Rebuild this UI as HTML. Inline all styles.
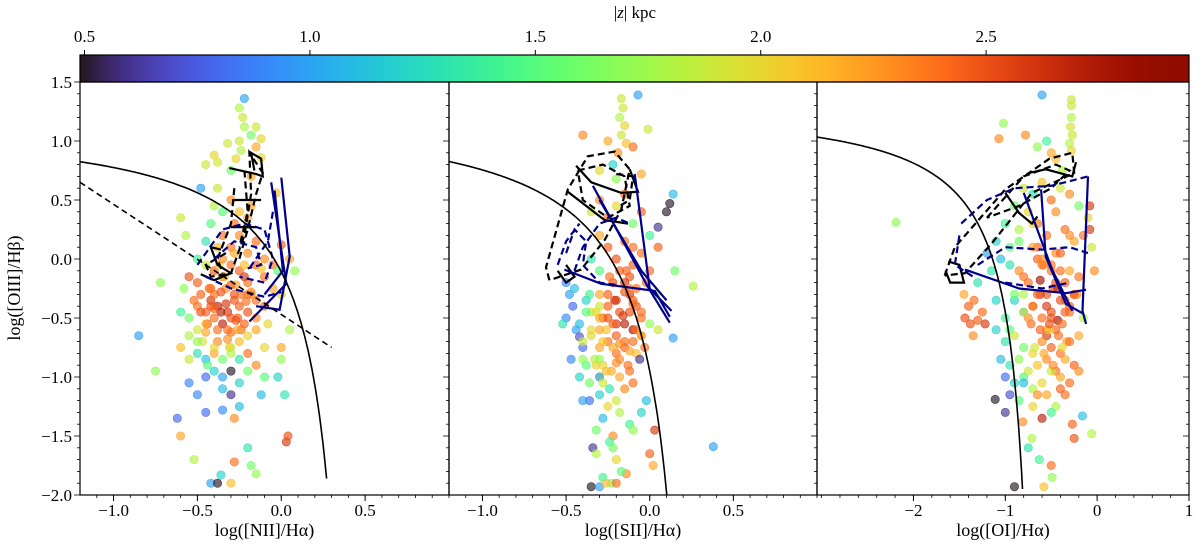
<!DOCTYPE html>
<html><head><meta charset="utf-8"><style>
html,body{margin:0;padding:0;background:#fff;}
svg text{font-family:"Liberation Serif","DejaVu Serif",serif;fill:#000;}
</style></head><body>
<svg id="chart" width="1200" height="550" xmlns="http://www.w3.org/2000/svg">
<defs><linearGradient id="turbo" x1="0" x2="1" y1="0" y2="0"></linearGradient>
<clipPath id="c0"><rect x="80" y="82" width="369" height="413"/></clipPath>
<clipPath id="c1"><rect x="449" y="82" width="368" height="413"/></clipPath>
<clipPath id="c2"><rect x="817" y="82" width="372" height="413"/></clipPath>
</defs>
</svg>
<script>
// ---- colorbar data ----
const cbTicks = [0.5, 1.0, 1.5, 2.0, 2.5];
const cbRange = [0.49, 2.95];
// ---- panel axis data ----
const yTicks = [1.5, 1.0, 0.5, 0.0, -0.5, -1.0, -1.5, -2.0];
const p1xTicks = [-1.0, -0.5, 0.0, 0.5];
const p2xTicks = [-1.0, -0.5, 0.0, 0.5];
const p3xTicks = [-2, -1, 0, 1];
// ---- panel 1: [NII]/Ha ----
const p1x = [-0.22,-0.25,-0.23,-0.22,-0.18,-0.15,-0.12,-0.25,-0.32,-0.24,-0.27,-0.12,-0.15,-0.4,-0.38,-0.45,-0.38,-0.48,-0.3,-0.18,-0.03,
 -0.6,-0.57,-0.4,-0.35,-0.3,-0.28,-0.42,-0.35,-0.25,-0.2,-0.45,-0.38,-0.3,-0.2,-0.15,-0.1,-0.05,0.0,-0.5,-0.45,-0.55,-0.5,-0.58,-0.4,-0.35,-0.3,-0.25,-0.2,-0.15,-0.1,-0.05,0.0,0.05,0.08,-0.72,-0.85,
 -0.48,-0.42,-0.38,-0.32,-0.35,-0.3,-0.25,-0.2,-0.28,-0.4,-0.45,-0.5,-0.52,-0.15,-0.1,-0.22,-0.3,-0.45,-0.38,-0.25,-0.15,-0.08,-0.55,-0.55,-0.6,-0.5,-0.33,-0.27,-0.37,-0.43,-0.18,-0.12,
 -0.5,-0.45,-0.4,-0.35,-0.3,-0.25,-0.2,-0.15,-0.1,-0.55,-0.6,-0.4,-0.35,-0.3,-0.45,-0.25,-0.2,-0.1,0.0,-0.55,-0.5,-0.35,-0.3,-0.25,-0.28,-0.35,-0.45,-0.12,0.02,-0.62,-0.6,-0.52,-0.2,-0.28,-0.36,-0.18,0.03,0.04,-0.42,-0.38,-0.3,-0.15,-0.02,-0.75,0.05,0.0,-0.22,-0.02,
 -0.36,-0.28,-0.44,-0.32,-0.26,-0.4,-0.2,-0.47,-0.34,-0.24,-0.31,-0.42,
 -0.42,-0.36,-0.3,-0.24,-0.18,-0.48,-0.4,-0.33,-0.27,-0.21,-0.15,-0.45,-0.38,-0.32,-0.26,-0.2,-0.35,-0.28,-0.22,-0.4,-0.3,-0.25,-0.18,-0.5,-0.44];
const p1y = [1.36,1.28,1.2,1.12,1.05,1.12,1.02,1.0,0.98,0.92,0.85,0.86,0.95,0.88,0.82,0.8,0.6,0.6,0.75,0.7,0.56,
 0.35,0.2,0.45,0.4,0.5,0.3,0.3,0.2,0.2,0.35,0.15,0.1,0.1,0.05,0.15,0.0,-0.05,0.12,0.0,-0.05,-0.15,-0.2,-0.25,-0.1,-0.15,-0.05,-0.1,-0.2,-0.05,-0.15,-0.25,-0.3,0.0,-0.1,-0.2,-0.65,
 -0.3,-0.35,-0.4,-0.45,-0.55,-0.5,-0.4,-0.45,-0.3,-0.5,-0.45,-0.4,-0.35,-0.35,-0.4,-0.55,-0.62,-0.62,-0.7,-0.7,-0.6,-0.55,-0.5,-0.65,-0.45,-0.6,-0.25,-0.22,-0.05,-0.25,-0.3,-0.08,
 -0.8,-0.85,-0.8,-0.85,-0.75,-0.85,-0.8,-0.9,-0.75,-0.85,-0.75,-0.95,-1.0,-0.95,-1.0,-1.05,-0.95,-1.0,-0.85,-1.05,-1.15,-1.1,-1.15,-1.25,-1.35,-1.28,-1.3,-1.15,-1.15,-1.35,-1.5,-1.7,-1.6,-1.72,-1.83,-1.75,-1.55,-1.5,-1.9,-1.9,-1.9,-1.82,-1.0,-0.95,-0.6,-0.75,-0.15,-0.1,
 -0.45,-0.35,-0.55,-0.6,-0.5,-0.3,-0.3,-0.7,-0.15,-0.6,-0.75,-0.4,
 -0.25,-0.28,-0.22,-0.3,-0.28,-0.45,-0.42,-0.38,-0.52,-0.36,-0.5,-0.55,-0.6,-0.68,-0.6,-0.65,0.0,0.05,-0.05,-0.75,-0.8,0.4,0.45,-0.7,-0.9];
const p1z = [1.0,1.8,1.9,1.8,1.6,1.9,2.0,1.9,1.9,1.8,2.0,2.0,2.2,2.0,1.9,1.9,1.9,1.0,1.6,2.2,2.1,
 1.9,1.8,1.8,1.5,2.3,2.4,1.5,2.4,2.3,2.2,1.3,2.1,2.4,2.3,2.4,2.3,2.4,2.45,1.4,1.9,2.5,2.45,1.7,2.45,2.4,2.4,2.45,2.4,2.4,2.4,2.2,2.0,2.2,1.7,1.7,1.0,
 2.45,2.6,2.7,2.6,2.7,2.5,2.45,2.5,2.5,2.4,2.45,2.4,2.4,2.4,2.4,2.45,2.4,2.2,2.3,2.1,2.2,2.0,1.6,1.8,1.4,1.9,2.3,2.2,2.0,2.4,2.3,2.1,
 1.3,1.1,2.2,1.6,1.9,1.3,2.4,2.3,2.0,1.9,2.1,1.2,1.0,0.5,0.8,1.2,1.6,1.5,1.7,0.9,0.9,1.1,0.6,1.1,2.3,0.9,0.8,1.1,1.3,0.8,2.2,1.8,1.3,2.4,1.2,1.6,2.6,2.5,1.0,0.5,2.1,1.7,1.2,1.7,1.8,2.2,2.6,1.5,
 2.7,2.5,2.45,2.4,2.45,2.4,2.4,1.9,2.1,2.4,2.0,2.5,
 2.4,2.5,2.45,2.4,2.3,2.5,2.45,2.6,2.5,2.4,2.3,2.2,2.4,2.3,2.2,2.0,2.3,2.2,2.1,2.0,1.8,2.1,2.2,1.7,1.5];
// ---- panel 2: [SII]/Ha ----
const p2x = [-0.07,-0.17,-0.16,-0.18,-0.15,-0.17,-0.14,-0.19,-0.4,-0.01,-0.25,-0.1,-0.3,-0.05,-0.2,-0.22,
 0.14,0.12,0.1,0.05,0.15,0.26,0.14,0.38,
 -0.5,-0.48,-0.46,-0.5,-0.44,-0.42,-0.38,-0.45,-0.4,-0.52,-0.47,
 -0.35,-0.3,-0.25,-0.2,-0.15,-0.1,-0.05,0.0,0.05,-0.3,-0.25,-0.2,-0.15,-0.1,-0.05,0.0,-0.35,-0.3,-0.22,-0.18,-0.12,-0.08,-0.02,0.04,
 -0.21,-0.15,-0.15,-0.12,-0.1,-0.18,-0.25,-0.28,-0.08,-0.05,-0.2,-0.12,-0.3,-0.32,-0.26,
 -0.4,-0.35,-0.3,-0.25,-0.2,-0.15,-0.1,-0.05,0.0,0.05,-0.38,-0.33,-0.28,-0.23,-0.18,-0.13,-0.08,-0.03,-0.42,-0.36,-0.3,-0.24,-0.18,-0.12,-0.06,
 -0.36,-0.3,-0.25,-0.2,-0.15,-0.1,-0.28,-0.18,-0.4,-0.32,-0.22,-0.12,-0.05,0.0,-0.24,-0.2,-0.14,-0.34,-0.28,-0.23,-0.17,0.02,0.03,-0.35,-0.3,-0.26,-0.2,-0.1,-0.22,-0.32,-0.3,-0.02,
 -0.2,-0.25,-0.1,-0.3,-0.05,-0.15,-0.35,-0.12,-0.3,-0.22,
 -0.25,-0.2,-0.15,-0.1,-0.3,-0.22,-0.16,-0.08,-0.35,-0.28,-0.18,-0.12,-0.38,-0.3,-0.24,-0.14,-0.4,-0.32,-0.26,-0.2,-0.36,-0.1,-0.05,-0.28,-0.42];
const p2y = [1.39,1.36,1.28,1.2,1.13,1.05,0.98,0.9,1.05,1.1,1.0,0.95,0.75,0.72,0.68,0.8,
 0.55,0.47,0.4,0.27,-0.1,-0.23,-0.67,-1.59,
 -0.2,-0.3,-0.4,-0.5,-0.6,-0.66,-0.35,-0.25,-0.75,-0.55,-0.85,
 0.4,0.5,0.35,0.45,0.55,0.3,0.4,0.2,0.1,0.2,0.1,0.0,0.15,-0.05,0.05,-0.1,0.0,-0.1,-0.2,-0.1,-0.15,-0.25,-0.2,-0.3,
 -0.35,-0.55,-0.2,-0.45,-0.6,-0.45,-0.4,-0.5,-0.4,-0.5,-0.65,-0.3,-0.3,-0.45,-0.6,
 -0.7,-0.65,-0.75,-0.7,-0.8,-0.75,-0.7,-0.65,-0.55,-0.6,-0.9,-0.85,-0.9,-0.95,-0.85,-0.9,-0.8,-0.75,-1.0,-1.05,-1.0,-1.1,-1.0,-0.95,-0.85,
 -1.2,-1.15,-1.25,-1.2,-1.1,-1.05,-1.35,-1.3,-1.2,-1.45,-1.5,-1.4,-1.3,-1.65,-1.55,-1.7,-1.82,-1.6,-1.85,-1.9,-1.8,-1.75,-1.45,-1.93,-1.93,-1.9,-1.9,-1.45,-1.6,-1.65,-1.0,-1.2,
 -0.55,-0.5,-0.35,-0.6,-0.45,-0.7,-0.45,-0.25,-0.85,-0.75,
 -0.3,-0.35,-0.28,-0.38,-0.5,-0.55,-0.48,-0.6,-0.6,-0.7,-0.72,-0.78,-0.45,-0.4,-0.15,-0.1,-0.85,-0.9,-0.95,-0.88,-0.3,0.1,-0.65,-1.05,-0.55];
const p2z = [1.0,1.9,1.9,1.8,2.0,1.9,2.1,2.3,2.3,1.9,2.2,2.4,2.0,2.2,1.7,1.2,
 1.1,0.5,0.5,0.6,1.6,1.8,1.0,1.0,
 0.9,1.0,0.8,0.9,1.0,0.7,1.2,1.1,0.8,1.3,0.9,
 1.9,2.3,2.4,2.0,2.4,1.6,2.45,1.4,2.45,2.2,2.45,2.5,2.4,2.45,2.4,2.4,1.3,1.5,2.5,2.45,2.5,2.4,2.4,1.8,
 2.6,2.7,2.6,2.5,2.8,2.5,2.45,2.45,2.5,2.4,2.45,2.6,2.2,2.0,2.1,
 1.9,2.0,2.2,2.4,2.4,2.45,2.4,2.3,1.7,1.9,1.5,1.8,2.0,2.2,2.3,2.4,2.1,2.4,1.2,1.6,2.0,1.3,2.2,2.4,0.6,
 0.8,1.2,2.0,1.9,2.3,2.4,1.1,1.8,1.0,1.6,2.3,1.4,1.2,2.45,1.4,2.0,2.3,0.6,1.4,1.6,1.5,2.2,2.6,0.5,1.0,2.1,2.4,1.7,1.6,1.8,1.0,1.1,
 2.6,2.5,2.45,2.2,2.4,2.4,1.9,2.3,1.7,2.2,
 2.45,2.6,2.5,2.4,2.2,2.45,2.6,2.4,2.0,2.1,2.3,2.2,1.5,1.9,2.4,2.45,1.7,2.0,2.1,2.3,1.4,2.4,2.2,1.9,1.1];
// ---- panel 3: [OI]/Ha ----
const p3x = [-0.6,-0.28,-0.28,-0.28,-0.29,-0.27,-0.3,-0.28,-1.02,-1.07,-0.78,-0.55,-0.5,-0.45,-0.65,-0.38,-2.19,
 -1.44,-1.38,-1.3,-1.22,-1.4,-1.34,-1.25,-1.45,-1.3,-1.35,
 -1.2,-1.1,-1.0,-0.9,-0.8,-1.15,-1.05,-0.95,-0.85,-0.75,-0.7,-0.6,-0.5,-0.4,-0.3,-0.2,-0.1,-0.65,-0.55,-0.45,-0.35,-0.25,-0.15,-0.08,-0.08,-0.06,-0.03,-0.9,-0.8,-0.95,
 -0.85,-0.75,-0.65,-0.62,-0.55,-0.5,-0.43,-0.4,-0.35,-0.3,-0.25,-0.2,-0.7,-0.6,-0.5,-0.45,-0.38,-0.3,-0.22,-0.8,-0.72,-0.55,-0.48,-0.4,-0.33,-0.65,-0.58,-0.52,
 -1.1,-1.0,-0.9,-0.8,-0.7,-0.6,-0.5,-0.4,-0.3,-0.2,-0.15,-1.05,-0.95,-0.85,-0.75,-0.65,-0.55,-0.45,-0.35,-0.25,-1.0,-0.9,-0.8,-0.7,-0.6,-0.5,-0.4,-0.3,-0.2,
 -1.11,-0.27,-0.25,-0.06,-0.16,-0.9,-0.58,-0.49,-0.5,-0.63,-0.75,-0.71,-0.81,-1.0,-0.85,-0.7,-0.55,-0.45,-0.35,-0.95,-0.6,-0.5,-0.8,-0.65,-0.4,
 -0.62,-0.43,-0.7,-0.5,-0.8,-0.6,-0.35,-0.55,-0.68,-0.45,
 -0.7,-0.6,-0.5,-0.4,-0.3,-0.65,-0.55,-0.45,-0.35,-0.25,-0.75,-0.62,-0.52,-0.42,-0.9,-0.8,-1.0,-0.95,-0.58,-0.48,-0.38,-0.7,-0.3,-0.85,-1.1];
const p3y = [1.39,1.35,1.3,1.2,1.12,1.05,0.98,0.92,1.15,1.02,1.05,1.0,0.9,0.85,0.95,0.75,0.31,
 -0.5,-0.55,-0.52,-0.55,-0.4,-0.35,-0.45,-0.3,-0.2,-0.65,
 0.05,0.15,0.3,0.45,0.6,-0.1,0.0,0.1,0.25,0.4,0.55,0.65,0.5,0.6,0.55,0.45,0.35,0.3,0.2,0.4,0.25,0.15,0.2,0.45,0.25,0.1,-0.1,-0.35,-0.45,-0.6,
 -0.1,-0.2,0.0,-0.18,-0.3,-0.1,-0.52,-0.35,-0.2,-0.4,-0.3,-0.15,-0.4,-0.5,-0.45,-0.6,-0.55,-0.45,-0.3,-0.3,-0.55,-0.65,-0.25,-0.1,-0.7,0.1,-0.05,-0.6,
 -0.6,-0.7,-0.65,-0.75,-0.8,-0.7,-0.75,-0.8,-0.7,-0.65,-0.5,-0.85,-0.9,-0.85,-0.95,-0.9,-0.85,-0.95,-0.85,-0.9,-1.0,-1.05,-1.0,-1.1,-1.05,-0.95,-1.0,-1.05,-0.95,
 -1.19,-1.4,-1.52,-1.48,-1.33,-1.93,-1.93,-1.85,-1.75,-1.7,-1.6,-1.52,-1.38,-1.3,-1.2,-1.25,-1.15,-1.25,-1.15,-1.15,-1.35,-1.3,-1.05,-1.15,-1.1,
 -0.3,-0.25,-0.4,-0.5,-0.15,-0.05,-0.35,-0.6,-0.75,0.05,
 0.1,0.0,-0.05,0.05,-0.1,-0.3,-0.4,-0.2,-0.45,-0.3,-0.5,-0.6,-0.55,-0.65,-0.3,-0.45,-0.5,-0.05,-0.8,-0.9,-0.75,0.3,0.2,0.15,-0.35];
const p3z = [1.0,1.9,1.9,1.8,1.9,1.9,1.8,2.0,1.7,2.3,2.3,1.4,2.2,2.1,1.7,1.8,1.7,
 2.5,2.5,2.45,2.6,2.45,2.4,2.4,2.2,1.3,2.3,
 1.0,1.2,1.4,1.6,1.9,1.3,1.1,1.5,1.8,2.0,1.3,2.1,2.4,1.9,2.3,1.6,2.0,2.4,2.4,2.3,2.4,2.2,2.4,2.6,2.6,1.9,2.3,1.2,1.0,1.5,
 2.3,2.4,2.45,2.8,2.5,2.4,2.8,2.5,2.45,2.45,2.6,2.4,2.1,2.4,2.5,2.45,2.4,2.4,2.3,1.8,2.4,2.6,2.5,2.4,2.2,2.45,2.3,2.0,
 1.2,1.3,1.9,1.6,2.0,2.3,2.45,2.4,2.4,2.2,1.8,1.1,1.3,1.7,1.9,2.1,2.3,2.4,2.2,2.45,0.8,1.2,1.5,1.8,2.0,1.9,2.2,2.4,2.3,
 0.5,2.45,2.5,1.8,1.1,0.5,2.1,1.7,2.4,1.4,1.3,1.8,2.3,0.6,1.5,2.0,2.2,1.8,2.4,0.7,2.7,1.4,1.1,2.3,2.45,
 2.6,2.7,2.45,2.5,2.4,2.4,2.45,2.2,1.9,2.3,
 2.2,2.3,2.4,2.45,2.2,2.45,2.6,2.5,2.45,2.4,2.3,2.45,2.5,2.4,1.6,1.9,1.4,1.3,2.2,2.3,2.0,2.0,2.3,1.6,1.2];
// ---- contour paths (data units) ----
const p1BlackDash = [[[-0.33,0.05],[-0.45,-0.05],[-0.42,-0.15],[-0.3,-0.12],[-0.22,0.2],[-0.18,0.55],[-0.19,0.9],[-0.11,0.73],[-0.15,0.55],[-0.2,0.25],[-0.25,0.0]],
 [[-0.28,0.6],[-0.3,0.3],[-0.38,0.0],[-0.35,-0.12]],[[-0.22,0.75],[-0.2,0.4],[-0.25,0.1]]];
const p1BlackSolid = [[[-0.31,0.77],[-0.15,0.72],[-0.11,0.7],[-0.12,0.85],[-0.18,0.9],[-0.16,0.75]],[[-0.28,0.5],[-0.12,0.5]],[[-0.3,0.27],[-0.15,0.27]],
 [[-0.48,-0.13],[-0.4,-0.18],[-0.3,-0.12],[-0.38,-0.05],[-0.42,0.1],[-0.36,0.08]]];
const p1NavySolid = [[[-0.06,0.65],[0.03,-0.21],[-0.19,-0.53]],[[0.0,0.69],[0.05,0.02],[-0.01,-0.43],[-0.15,-0.4]],[[-0.04,0.58],[0.01,-0.1],[-0.1,-0.3]]];
const p1NavyDash = [[[-0.5,-0.05],[-0.35,0.25],[-0.22,0.3],[-0.1,0.25],[-0.05,0.0],[-0.1,-0.2],[-0.25,-0.15]],[[-0.45,-0.15],[-0.3,-0.25],[-0.1,-0.32],[0.0,-0.28]],
 [[-0.4,0.0],[-0.28,0.15],[-0.15,0.1],[-0.12,-0.05],[-0.2,-0.08]],[[-0.05,0.4],[-0.08,0.15],[-0.2,-0.1]]];
const p2BlackDash = [[[-0.6,-0.18],[-0.62,-0.07],[-0.49,0.59],[-0.37,0.87],[-0.21,0.91],[-0.12,0.76],[-0.17,0.42],[-0.27,0.16],[-0.41,-0.09],[-0.6,-0.18]],
 [[-0.43,0.75],[-0.28,0.8],[-0.15,0.7],[-0.12,0.45],[-0.25,0.35],[-0.4,0.5],[-0.43,0.75]],[[-0.2,0.72],[-0.1,0.7],[-0.12,0.5],[-0.18,0.45]]];
const p2BlackSolid = [[[-0.49,0.57],[-0.27,0.33],[-0.13,0.3]],[[-0.44,0.79],[-0.35,0.65],[-0.17,0.56],[-0.07,0.57],[-0.12,0.76]],[[-0.55,-0.1],[-0.5,-0.2],[-0.45,-0.15],[-0.5,-0.05]]];
const p2NavySolid = [[[-0.34,0.62],[-0.01,-0.24],[0.12,-0.54]],[[-0.09,0.72],[0.0,-0.25],[0.13,-0.44]],[[-0.51,-0.09],[-0.29,-0.21],[0.03,-0.27],[0.12,-0.49]],[[-0.3,0.5],[-0.05,-0.1],[0.1,-0.35]]];
const p2NavyDash = [[[-0.5,0.05],[-0.45,0.25],[-0.38,0.15],[-0.4,-0.05],[-0.3,-0.2],[-0.2,-0.22]],[[-0.45,-0.1],[-0.4,0.1],[-0.3,0.3],[-0.2,0.35],[-0.12,0.3]],[[-0.55,-0.05],[-0.5,0.15],[-0.42,0.3]]];
const p3BlackDash = [[[-1.66,-0.14],[-1.55,0.1],[-1.0,0.59],[-0.52,0.85],[-0.27,0.9],[-0.25,0.73],[-0.71,0.56],[-1.15,0.13],[-1.44,-0.12],[-1.66,-0.14]],
 [[-1.2,0.35],[-0.8,0.7],[-0.45,0.8],[-0.3,0.75],[-0.5,0.6],[-0.85,0.45],[-1.2,0.35]]];
const p3BlackSolid = [[[-1.0,0.56],[-0.85,0.39],[-0.71,0.3],[-0.65,0.36]],[[-0.74,0.73],[-0.56,0.76],[-0.27,0.7],[-0.23,0.82]],[[-1.65,-0.1],[-1.6,-0.2],[-1.45,-0.2],[-1.5,-0.05],[-1.62,-0.02]]];
const p3NavySolid = [[[-0.8,0.56],[-0.49,-0.09],[-0.27,-0.44]],[[-0.61,0.59],[-0.56,0.02],[-0.34,-0.38],[-0.16,-0.46]],[[-0.1,0.7],[-0.16,-0.44],[-0.12,-0.55]],[[-1.44,-0.09],[-0.85,-0.25],[-0.34,-0.29],[-0.12,-0.26]]];
const p3NavyDash = [[[-1.48,0.3],[-1.2,0.5],[-0.9,0.6],[-0.5,0.62],[-0.1,0.7]],[[-1.3,-0.05],[-1.0,0.1],[-0.6,0.08],[-0.3,0.1],[-0.1,0.05]],[[-1.0,-0.2],[-0.6,-0.25],[-0.3,-0.2]],[[-1.5,0.2],[-1.55,-0.05],[-1.35,-0.15]]];

const NS="http://www.w3.org/2000/svg";
const svg=document.getElementById('chart');
function mk(tag,attrs,parent){const e=document.createElementNS(NS,tag);for(const k in attrs)e.setAttribute(k,attrs[k]);(parent||svg).appendChild(e);return e;}
function turbo(t){t=Math.max(0,Math.min(1,t));
 const r=0.13572138+t*(4.61539260+t*(-42.66032258+t*(132.13108234+t*(-152.94239396+t*59.28637943))));
 const g=0.09140261+t*(2.19418839+t*(4.84296658+t*(-14.18503333+t*(4.27729857+t*2.82956604))));
 const b=0.10667330+t*(12.64194608+t*(-60.58204836+t*(110.36276771+t*(-89.90310912+t*27.34824973))));
 const c=v=>Math.round(Math.max(0,Math.min(1,v))*255);return `rgb(${c(r)},${c(g)},${c(b)})`;}
function zcol(z){return turbo((z-cbRange[0])/(cbRange[1]-cbRange[0]));}

// colorbar
const grad=document.getElementById('turbo');
for(let i=0;i<=40;i++){const s=document.createElementNS(NS,'stop');s.setAttribute('offset',(i/40));s.setAttribute('stop-color',turbo(i/40));grad.appendChild(s);}
const cbX0=80,cbX1=1189,cbY0=55,cbY1=82;
const cbScale=v=>cbX0+(v-cbRange[0])/(cbRange[1]-cbRange[0])*(cbX1-cbX0);
const cb=mk('rect',{x:cbX0,y:cbY0,width:cbX1-cbX0,height:cbY1-cbY0,fill:'url(#turbo)',stroke:'#000','stroke-width':1.2});


cbTicks.forEach(v=>{const x=cbScale(v);
 mk('line',{x1:x,x2:x,y1:cbY0,y2:cbY0-5,stroke:'#000','stroke-width':1});
 const t=mk('text',{x:x,y:cbY0-13,'text-anchor':'middle','font-size':17});t.textContent=v.toFixed(1);
 
 });
const cbt=mk('text',{x:635,y:18,'text-anchor':'middle','font-size':17});
cbt.innerHTML='|<tspan font-style="italic">z</tspan>| kpc';



const Y0=82,Y1=495,yMin=-2.0,yMax=1.5;
const ys=v=>Y0+(yMax-v)/(yMax-yMin)*(Y1-Y0);
const panels=[
 {x0:80,x1:449,xr:[-1.2,1.0],ticks:p1xTicks,minor:0.1,fmt:v=>v.toFixed(1),label:'log([NII]/Hα)',xs:p1x,ysd:p1y,zs:p1z,curve:x=>0.61/(x-0.47)+1.19,asym:0.47,bd:p1BlackDash,bs:p1BlackSolid,ns:p1NavySolid,nd:p1NavyDash,name:'nii'},
 {x0:449,x1:817,xr:[-1.2,1.0],ticks:p2xTicks,minor:0.1,fmt:v=>v.toFixed(1),label:'log([SII]/Hα)',xs:p2x,ysd:p2y,zs:p2z,curve:x=>0.72/(x-0.32)+1.30,asym:0.32,bd:p2BlackDash,bs:p2BlackSolid,ns:p2NavySolid,nd:p2NavyDash,name:'sii'},
 {x0:817,x1:1189,xr:[-3.05,1.0],ticks:p3xTicks,minor:0.2,fmt:v=>String(v),label:'log([OI]/Hα)',xs:p3x,ysd:p3y,zs:p3z,curve:x=>0.73/(x+0.59)+1.33,asym:-0.59,bd:p3BlackDash,bs:p3BlackSolid,ns:p3NavySolid,nd:p3NavyDash,name:'oi'}];

panels.forEach((p,pi)=>{
 const xs=v=>p.x0+(v-p.xr[0])/(p.xr[1]-p.xr[0])*(p.x1-p.x0);
 const g=mk('g',{'clip-path':`url(#c${pi})`});
 
 
 p.xs.forEach((xv,i)=>{
  const c=mk('circle',{cx:xs(xv),cy:ys(p.ysd[i]),r:4.2,fill:zcol(p.zs[i]),'fill-opacity':0.65,stroke:zcol(p.zs[i]),'stroke-opacity':0.8,'stroke-width':0.6},g);
  
  });
 const pathOf=pts=>pts.map((q,i)=>(i?'L':'M')+xs(q[0]).toFixed(1)+','+ys(q[1]).toFixed(1)).join(' ');
 p.bd.forEach(pts=>{const e=mk('path',{d:pathOf(pts),fill:'none',stroke:'#000','stroke-width':2.2,'stroke-dasharray':'7,4'},g);
  
  });
 p.bs.forEach(pts=>{const e=mk('path',{d:pathOf(pts),fill:'none',stroke:'#000','stroke-width':2.2},g);
  
  });
 p.nd.forEach(pts=>{const e=mk('path',{d:pathOf(pts),fill:'none',stroke:'#00008b','stroke-width':2.2,'stroke-dasharray':'7,4'},g);
  
  });
 p.ns.forEach(pts=>{const e=mk('path',{d:pathOf(pts),fill:'none',stroke:'#00008b','stroke-width':2.2},g);
  
  });
 let d='';const N=200;
 for(let i=0;i<=N;i++){const xv=p.xr[0]+(p.asym-0.2-p.xr[0])*i/N;const yv=p.curve(xv);if(yv<yMin-0.1)break;d+=(d?'L':'M')+xs(xv).toFixed(1)+','+ys(yv).toFixed(1);}
 const cv=mk('path',{d:d,fill:'none',stroke:'#000','stroke-width':1.6},g);
 
 
 if(pi===0){const dl=mk('line',{x1:xs(-1.2),y1:ys(0.65),x2:xs(0.3),y2:ys(-0.75),stroke:'#000','stroke-width':1.6,'stroke-dasharray':'6,4'},g);
  
  }
 const fr=mk('rect',{x:p.x0,y:Y0,width:p.x1-p.x0,height:Y1-Y0,fill:'none',stroke:'#000','stroke-width':1.2});
 
 
 for(let v=Math.ceil(p.xr[0]/p.minor)*p.minor;v<=p.xr[1]+1e-6;v+=p.minor){const x=xs(v);mk('line',{x1:x,x2:x,y1:Y1,y2:Y1+3,stroke:'#000','stroke-width':0.8});}
 p.ticks.forEach(v=>{const x=xs(v);mk('line',{x1:x,x2:x,y1:Y1,y2:Y1+6,stroke:'#000','stroke-width':1});
  const t=mk('text',{x:x,y:Y1+21,'text-anchor':'middle','font-size':17});t.textContent=p.fmt(v).replace('-','−');
  
  });
 const xl=mk('text',{x:(p.x0+p.x1)/2,y:536,'text-anchor':'middle','font-size':18});xl.textContent=p.label;
 
 
 for(let v=-2.0;v<=1.5+1e-6;v+=0.1){const y=ys(v);const maj=Math.abs(v*2-Math.round(v*2))<1e-6;
  mk('line',{x1:p.x1,x2:p.x1-(maj?6:3),y1:y,y2:y,stroke:'#000','stroke-width':0.8});}
});
for(let v=-2.0;v<=1.5+1e-6;v+=0.1){const y=ys(v);const maj=Math.abs(v*2-Math.round(v*2))<1e-6;
 mk('line',{x1:80,x2:80-(maj?6:3),y1:y,y2:y,stroke:'#000','stroke-width':0.8});}
yTicks.forEach(v=>{const t=mk('text',{x:72,y:ys(v)+6,'text-anchor':'end','font-size':17});t.textContent=v.toFixed(1).replace('-','−');
 
 });
const yl=mk('text',{x:0,y:0,'text-anchor':'middle','font-size':18,transform:'translate(20,288) rotate(-90)'});yl.textContent='log([OIII]/Hβ)';


</script>
</body></html>
